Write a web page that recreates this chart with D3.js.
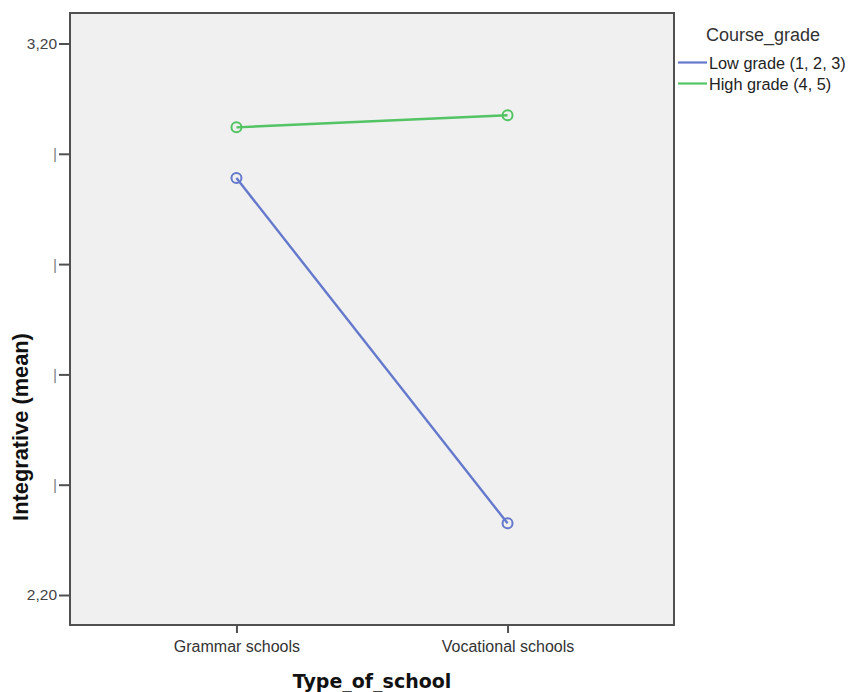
<!DOCTYPE html>
<html><head><meta charset="utf-8">
<script src="https://cdn.jsdelivr.net/npm/d3@7"></script>
<style>body{margin:0;background:#fff}svg{display:block}</style>
</head><body>
<svg id="c" width="854" height="692"></svg>
<script>
const categories = ["Grammar schools", "Vocational schools"];
const lowGrade = [2.956, 2.330];
const highGrade = [3.048, 3.070];
const seriesNames = ["Low grade (1, 2, 3)", "High grade (4, 5)"];
const yTickValues = [3.2, 3.0, 2.8, 2.6, 2.4, 2.2];
const yTickLabels = ["3,20", "|", "|", "|", "|", "2,20"];
const legendTitle = "Course_grade";
const xTitle = "Type_of_school";
const yTitle = "Integrative (mean)";
const colors = ["#6478cc", "#52c463"];

const svg = d3.select("#c");
const L = 70, R = 674, T = 13, B = 625;
const x = d3.scalePoint().domain(categories).range([L, R]).padding(0.614);
const y = d3.scaleLinear().domain([2.2, 3.2]).range([595, 43.5]);

svg.append("rect").attr("x", L).attr("y", T).attr("width", R - L).attr("height", B - T)
  .attr("fill", "#f0f0f0").attr("stroke", "#505050").attr("stroke-width", 2);

const yAxis = svg.append("g").attr("transform", `translate(${L},0)`)
  .call(d3.axisLeft(y).tickValues(yTickValues).tickSize(11).tickPadding(2)
    .tickFormat((d, i) => yTickLabels[i]));
yAxis.select(".domain").remove();
yAxis.selectAll("line").attr("stroke", "#505050").attr("stroke-width", 2);
yAxis.selectAll("text").attr("font-family", "Liberation Sans, Arial, sans-serif")
  .attr("font-size", 15.5)
  .attr("fill", (d, i) => yTickLabels[i] === "|" ? "#808080" : "#444");

const xAxis = svg.append("g").attr("transform", `translate(0,${B})`)
  .call(d3.axisBottom(x).tickSize(8).tickPadding(8));
xAxis.select(".domain").remove();
xAxis.selectAll("line").attr("stroke", "#505050").attr("stroke-width", 2);
xAxis.selectAll("text").attr("font-family", "Liberation Sans, Arial, sans-serif")
  .attr("font-size", 16).attr("fill", "#333");

const series = [lowGrade, highGrade];
const line = d3.line().x((d, i) => x(categories[i])).y(d => y(d));
series.forEach((vals, s) => {
  svg.append("path").datum(vals).attr("d", line).attr("fill", "none")
    .attr("stroke", colors[s]).attr("stroke-width", 2.4);
  svg.selectAll(null).data(vals).enter().append("circle")
    .attr("cx", (d, i) => x(categories[i])).attr("cy", d => y(d)).attr("r", 5)
    .attr("fill", "none").attr("stroke", colors[s]).attr("stroke-width", 2);
});

svg.append("text").attr("x", 372).attr("y", 688).attr("text-anchor", "middle")
  .attr("font-family", "DejaVu Sans, Verdana, sans-serif").attr("font-weight", "bold")
  .attr("font-size", 19).attr("fill", "#111").text(xTitle);
svg.append("text").attr("transform", "translate(28,427) rotate(-90)").attr("text-anchor", "middle")
  .attr("font-family", "Liberation Sans, Arial, sans-serif").attr("font-weight", "bold")
  .attr("font-size", 21.8).attr("fill", "#111").text(yTitle);

svg.append("text").attr("x", 706).attr("y", 41).attr("font-family", "Liberation Sans, Arial, sans-serif")
  .attr("font-size", 18).attr("fill", "#333").text(legendTitle);
seriesNames.forEach((n, i) => {
  const yy = 62.5 + i * 21;
  svg.append("line").attr("x1", 678).attr("x2", 707).attr("y1", yy).attr("y2", yy)
    .attr("stroke", colors[i]).attr("stroke-width", 2.2);
  svg.append("text").attr("x", 709).attr("y", yy + 6).attr("font-family", "Liberation Sans, Arial, sans-serif")
    .attr("font-size", 16.3).attr("fill", "#222").text(n);
});
</script>
</body></html>
